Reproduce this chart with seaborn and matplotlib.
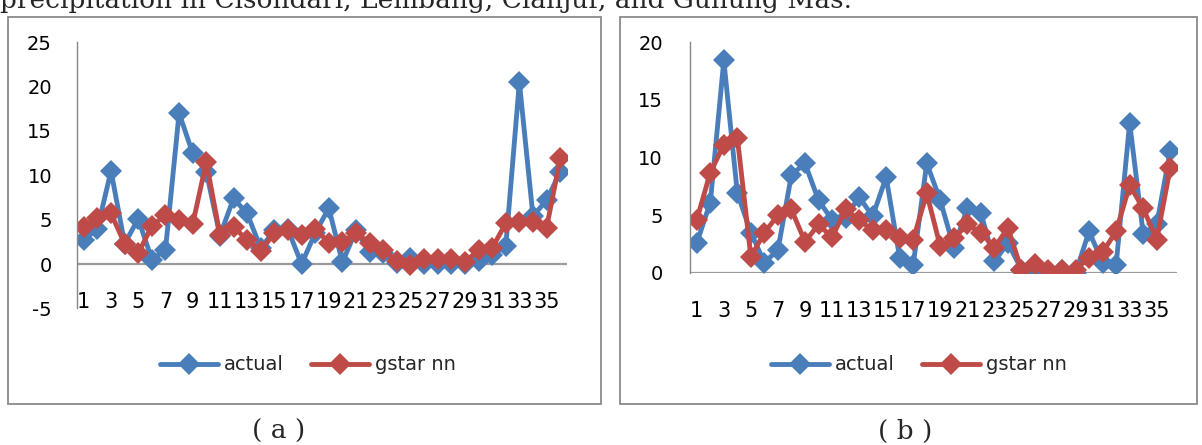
import matplotlib
matplotlib.use("Agg")
import matplotlib.pyplot as plt
import seaborn as sns
import pandas as pd
from matplotlib.patches import Rectangle
from matplotlib.lines import Line2D

# ---------------- data ----------------
periods = list(range(1, 37))
tick_positions = list(range(1, 36, 2))
tick_labels = [str(i) for i in tick_positions]
series_names = ["actual", "gstar nn"]

actual_a = [2.7, 4.0, 10.5, 2.3, 5.1, 0.5, 1.6, 17.0, 12.5, 10.4, 3.2, 7.4,
            5.7, 1.8, 3.8, 3.9, 0.0, 3.5, 6.3, 0.2, 3.8, 1.4, 1.2, 0.1,
            0.7, 0.0, 0.0, 0.0, 0.0, 0.3, 1.0, 2.0, 20.5, 5.4, 7.2, 10.4]
gstar_a = [4.2, 5.2, 5.7, 2.3, 1.2, 4.3, 5.5, 5.0, 4.5, 11.5, 3.3, 4.2,
           2.7, 1.5, 3.5, 3.8, 3.3, 4.0, 2.4, 2.5, 3.5, 2.4, 1.6, 0.3,
           -0.1, 0.6, 0.6, 0.6, 0.2, 1.6, 1.8, 4.6, 4.7, 4.7, 4.1, 11.9]

actual_b = [2.6, 6.1, 18.4, 6.9, 3.5, 0.9, 2.0, 8.5, 9.5, 6.3, 4.6, 4.8,
            6.6, 4.9, 8.3, 1.3, 0.7, 9.5, 6.3, 2.2, 5.6, 5.2, 1.0, 2.6,
            0.3, 0.0, 0.0, 0.3, 0.0, 3.6, 0.9, 0.7, 13.0, 3.4, 4.2, 10.6]
gstar_b = [4.6, 8.7, 11.1, 11.7, 1.4, 3.5, 5.0, 5.5, 2.7, 4.2, 3.1, 5.5,
           4.6, 3.7, 3.7, 3.0, 2.9, 6.9, 2.3, 3.0, 4.2, 3.5, 2.2, 3.9,
           0.3, 0.8, 0.3, 0.3, 0.3, 1.3, 1.8, 3.6, 7.6, 5.6, 2.9, 9.1]

yticks_a = [-5, 0, 5, 10, 15, 20, 25]
yticks_b = [0, 5, 10, 15, 20]

caption = "precipitation in Cisondari, Lembang, Cianjur, and Gunung Mas."
panel_labels = ["( a )", "( b )"]

# ---------------- style ----------------
colors = ["#4A7EBB", "#BE4B48"]
sns.set_style("white")
plt.rcParams["font.family"] = ["DejaVu Sans"]
plt.rcParams["axes.unicode_minus"] = False

W, H = 1202, 445
fig = plt.figure(figsize=(W / 100, H / 100), dpi=100)

LW = 3.5
MS = 11.5


def fx(px):
    return px / W


def fy(py):
    return 1 - py / H


def panel(rect_px, axes_px, actual, gstar, yticks, ylim, xpad, ypad, legend_xy, label_xy, label):
    x0, y0, x1, y1 = rect_px
    fig.add_artist(Rectangle((fx(x0), fy(y1)), fx(x1) - fx(x0), fy(y0) - fy(y1),
                             transform=fig.transFigure, fill=False,
                             ec="#8a8a8a", lw=1.3))
    ax0, ay_top, ax1, ay_bot = axes_px
    ax = fig.add_axes([fx(ax0), fy(ay_bot), (ax1 - ax0) / W, (ay_bot - ay_top) / H])
    df = pd.DataFrame({
        "period": periods * 2,
        "value": actual + gstar,
        "series": [series_names[0]] * len(periods) + [series_names[1]] * len(periods),
    })
    sns.lineplot(data=df, x="period", y="value", hue="series", style="series",
                 palette=dict(zip(series_names, colors)),
                 markers={n: "D" for n in series_names}, dashes=False,
                 lw=LW, markersize=MS, markeredgewidth=0, ax=ax, legend=False)
    ax.axhline(0, color="#9a9a9a", lw=1.6, zorder=0.5)
    ax.set_xlim(0.5, 36.5)
    ax.set_ylim(*ylim)
    ax.set_yticks(yticks)
    ax.set_xticks(tick_positions)
    ax.set_xticklabels(tick_labels)
    ax.set_xlabel("")
    ax.set_ylabel("")
    ax.grid(False)
    for s in ["top", "right", "bottom"]:
        ax.spines[s].set_visible(False)
    ax.spines["left"].set_color("#868686")
    ax.spines["left"].set_linewidth(1.0)
    ax.tick_params(axis="both", length=0, labelcolor="black")
    ax.tick_params(axis="x", pad=xpad, labelsize=15)
    ax.tick_params(axis="y", pad=ypad, labelsize=14)
    handles = [Line2D([], [], color=c, lw=LW, marker="D", markersize=MS,
                      markeredgewidth=0) for c in colors]
    fig.legend(handles, series_names, loc="center",
               bbox_to_anchor=(fx(legend_xy[0]), fy(legend_xy[1])),
               bbox_transform=fig.transFigure, ncol=2, frameon=False,
               fontsize=14, handlelength=3.0, handletextpad=0.3,
               columnspacing=1.4, numpoints=1)
    fig.text(fx(label_xy[0]), fy(label_xy[1]), label, ha="center", va="center",
             family="DejaVu Serif", fontsize=19)
    return ax


panel((8, 17, 601, 404), (77, 42.3, 567, 308.4), actual_a, gstar_a,
      yticks_a, (-5, 25), -12, 18, (308, 365), (279, 431), panel_labels[0])
panel((620, 17, 1197, 404), (690, 42, 1177, 273), actual_b, gstar_b,
      yticks_b, (0, 20), 20, 19.5, (919, 365), (905, 431), panel_labels[1])

fig.text(0, fy(8), caption, ha="left", va="baseline",
         family="DejaVu Serif", fontsize=19)

fig.savefig("out.png", dpi=100)
